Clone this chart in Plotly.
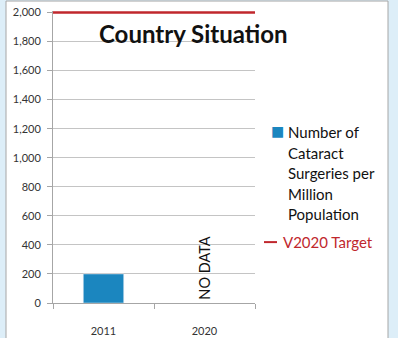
import plotly.graph_objects as go

years = ["2011", "2020"]
surgeries = [200, None]
target = [2000, 2000]
series_name = "Number of Cataract Surgeries per Million Population"
legend_lines = ["Number of", "Cataract", "Surgeries per", "Million", "Population"]
target_name = "V2020 Target"
title_text = "Country Situation"
no_data_text = "NO DATA"
no_data_year = "2020"
y_ticks = [0, 200, 400, 600, 800, 1000, 1200, 1400, 1600, 1800, 2000]
y_max = 2010

BAR = "#1b86bf"
RED = "#c0272d"
BG = "#ddeef8"
FONT = "Lato, 'Open Sans', sans-serif"

W, H = 398, 338
L, R, T, B = 53, 143, 10.5, 35
pw, ph = W - L - R, H - T - B

def px_x(x):
    return (x - L) / pw

def px_y(y):
    return (H - B - y) / ph

fig = go.Figure()
fig.add_trace(go.Bar(x=years, y=surgeries, name=series_name, marker_color=BAR,
                     width=0.4, showlegend=False, xaxis="x", yaxis="y"))
fig.add_trace(go.Scatter(x=years, y=target, name=target_name, mode="lines",
                         line=dict(color=RED, width=2.4), xaxis="x2", yaxis="y",
                         showlegend=False))

shapes = [
    dict(type="rect", xref="paper", yref="paper",
         x0=px_x(6), x1=px_x(388), y0=px_y(H + 20), y1=px_y(0.5),
         fillcolor="white", line=dict(color="#a6a6a6", width=1), layer="below"),
    dict(type="line", xref="paper", yref="paper",
         x0=px_x(264), x1=px_x(277), y0=px_y(242), y1=px_y(242),
         line=dict(color=RED, width=2)),
]

annotations = [
    dict(text=f"<b>{title_text}</b>", xref="paper", yref="paper", x=px_x(193), y=px_y(33),
         showarrow=False, font=dict(family=FONT, size=24, color="#111111"),
         xanchor="center", yanchor="middle"),
    dict(text=no_data_text, x=years.index(no_data_year), y=240, xref="x", yref="y",
         showarrow=False, textangle=-90, font=dict(family=FONT, size=14.5, color="#111111"),
         xanchor="center", yanchor="middle"),
    dict(text="■", xref="paper", yref="paper", x=px_x(277), y=px_y(131), showarrow=False,
         font=dict(family="DejaVu Sans", size=14, color=BAR), xanchor="center", yanchor="middle"),
    dict(text=target_name, xref="paper", yref="paper", x=px_x(281), y=px_y(242), showarrow=False,
         font=dict(family=FONT, size=15, color=RED), xanchor="left", yanchor="middle"),
]
for i, line in enumerate(legend_lines):
    annotations.append(dict(text=line, xref="paper", yref="paper", x=px_x(286),
                            y=px_y(132 + i * 20.5), showarrow=False,
                            font=dict(family=FONT, size=15, color="#111111"),
                            xanchor="left", yanchor="middle"))

fig.update_layout(
    width=W, height=H,
    margin=dict(l=L, r=R, t=T, b=B, pad=0),
    paper_bgcolor=BG, plot_bgcolor="white",
    font=dict(family=FONT, size=11, color="#333333"),
    xaxis=dict(type="category", categoryorder="array", categoryarray=years,
               range=[-0.5, 1.5], autorange=False, automargin=False, tickangle=0,
               showline=True, linecolor="#a6a6a6", linewidth=1,
               ticks="outside", tickson="boundaries", ticklen=5, tickcolor="#a6a6a6",
               showgrid=False, ticklabelstandoff=18, tickfont=dict(size=11)),
    xaxis2=dict(type="category", overlaying="x", anchor="y", side="bottom",
                categoryorder="array", categoryarray=years,
                range=[0, 1], autorange=False, visible=False),
    yaxis=dict(range=[0, y_max], autorange=False, automargin=False,
               tickvals=y_ticks, tickformat=",", showline=True,
               linecolor="#a6a6a6", linewidth=1, ticks="outside", ticklen=5,
               tickcolor="#a6a6a6", gridcolor="#c4c4c4", gridwidth=1,
               zeroline=False, ticklabelstandoff=4, tickfont=dict(size=11)),
    bargap=0.6,
    shapes=shapes,
    annotations=annotations,
    showlegend=False,
)

fig.write_html(
    "out.html",
    config={"displayModeBar": False},
    post_script=f"document.body.style.margin='0';document.body.style.background='{BG}';"
                "document.body.style.overflow='hidden';",
)
